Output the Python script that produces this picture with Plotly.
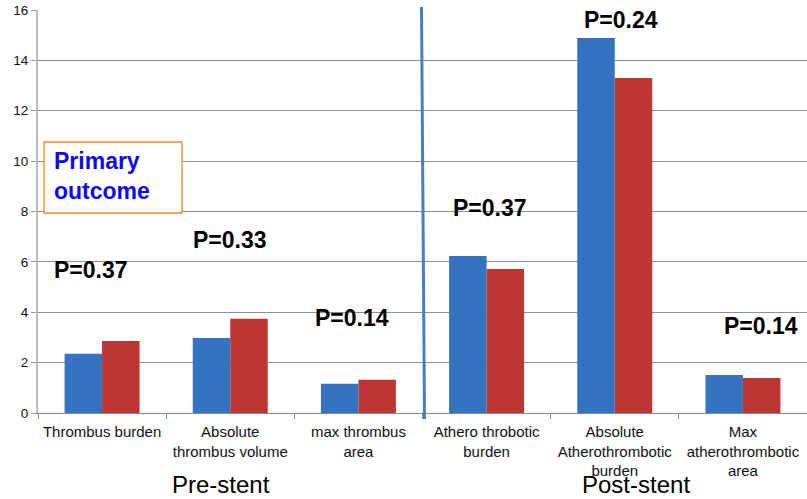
import plotly.graph_objects as go

categories = [
    "Thrombus burden",
    "Absolute<br>thrombus volume",
    "max thrombus<br>area",
    "Athero throbotic<br>burden",
    "Absolute<br>Atherothrombotic<br>burden",
    "Max<br>atherothrombotic<br>area",
]
series_a = [2.35, 2.98, 1.16, 6.23, 14.89, 1.51]
series_b = [2.86, 3.74, 1.32, 5.72, 13.30, 1.39]
p_labels = ["P=0.37", "P=0.33", "P=0.14", "P=0.37", "P=0.24", "P=0.14"]
y_ticks = [0, 2, 4, 6, 8, 10, 12, 14, 16]

W, H = 807, 499
L, R, T, B = 38, 0, 10, 86


def px(x):
    return (x - L) / (W - L - R)


def py(y):
    return 1 - (y - T) / (H - T - B)


FONT = "Liberation Sans, Arial"

fig = go.Figure()
fig.add_trace(go.Bar(x=categories, y=series_a, marker=dict(color="#3573C0", line=dict(width=0)), name="A"))
fig.add_trace(go.Bar(x=categories, y=series_b, marker=dict(color="#BE3634", line=dict(width=0)), name="B"))

# P-value annotations (pixel centres)
p_pos = [(91, 270), (230, 240), (352, 318), (490, 208), (621, 20), (761, 326)]
for txt, (xx, yy) in zip(p_labels, p_pos):
    fig.add_annotation(x=px(xx), y=py(yy), xref="paper", yref="paper", xanchor="center", yanchor="middle",
                       text="<b>%s</b>" % txt, showarrow=False,
                       font=dict(family=FONT, size=23, color="#000"))

# Primary outcome box
fig.add_shape(type="rect", xref="paper", yref="paper", x0=px(44), x1=px(182), y0=py(213), y1=py(142),
              line=dict(color="#F5822A", width=1.3), fillcolor="rgba(255,255,255,1)")
fig.add_annotation(x=px(52), y=py(176), xref="paper", yref="paper", xanchor="left", yanchor="middle",
                   text="<b>Primary<br>outcome</b>", align="left", showarrow=False,
                   font=dict(family=FONT, size=23, color="#0A0AF0"))

# separator line
fig.add_shape(type="line", xref="paper", yref="paper", x0=px(421.5), x1=px(424.5), y0=py(7), y1=py(419),
              line=dict(color="#4A7EC2", width=3))

# group labels
fig.add_annotation(x=px(221), y=py(485), xref="paper", yref="paper", xanchor="center", yanchor="middle",
                   text="Pre-stent", showarrow=False, font=dict(family=FONT, size=24, color="#000"))
fig.add_annotation(x=px(636), y=py(485), xref="paper", yref="paper", xanchor="center", yanchor="middle",
                   text="Post-stent", showarrow=False, font=dict(family=FONT, size=24, color="#000"))

fig.update_layout(
    width=W, height=H,
    margin=dict(l=L, r=R, t=T, b=B, pad=0),
    plot_bgcolor="white", paper_bgcolor="white",
    barmode="group", bargap=0.415, bargroupgap=0,
    showlegend=False,
    font=dict(family=FONT, color="#111"),
)
fig.update_xaxes(type="category", tickson="boundaries", ticks="outside", ticklen=5, tickcolor="#888",
                 showline=True, linecolor="#888", linewidth=1, showgrid=False,
                 ticklabelstandoff=5,
                 tickfont=dict(size=15, color="#111"))
fig.update_yaxes(range=[0, 16], tickvals=y_ticks, showgrid=True, gridcolor="#8f8f8f", gridwidth=1,
                 showline=True, linecolor="#bbb", linewidth=2, ticks="outside", ticklen=5, tickcolor="#999",
                 tickfont=dict(size=13.5, color="#111"), zeroline=False)

fig.write_html("out.html")
